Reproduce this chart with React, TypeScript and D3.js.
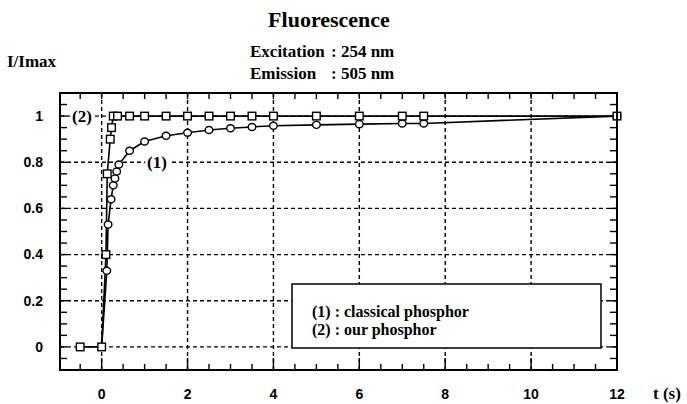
import React from "react";
import * as d3 from "d3";

// values
const classicalT = [0, 0.12, 0.15, 0.22, 0.27, 0.31, 0.35, 0.4, 0.65, 1, 1.5, 2, 2.5, 3, 3.5, 4, 5, 6, 7, 7.5, 12];
const classicalI = [0, 0.33, 0.53, 0.64, 0.7, 0.73, 0.76, 0.79, 0.85, 0.89, 0.915, 0.928, 0.94, 0.947, 0.953, 0.958, 0.962, 0.965, 0.968, 0.968, 1.0];
const ourT = [-0.5, 0, 0.1, 0.13, 0.2, 0.23, 0.27, 0.37, 0.65, 1, 1.5, 2, 2.5, 3, 3.5, 4, 5, 6, 7, 7.5, 12];
const ourI = [0, 0, 0.4, 0.75, 0.9, 0.95, 1, 1, 1, 1, 1, 1, 1, 1, 1, 1, 1, 1, 1, 1, 1];

const xTicks = [0, 2, 4, 6, 8, 10, 12];
const yTicks = [0, 0.2, 0.4, 0.6, 0.8, 1];
const yTickLabels = ["0", "0.2", "0.4", "0.6", "0.8", "1"];
const legendItems = ["(1) : classical phosphor", "(2) : our phosphor"];

const W = 687;
const H = 404;
const plot = { left: 60, right: 617, top: 93, bottom: 370 };

export default function App() {
  const x = d3.scaleLinear().domain([-0.97, 12]).range([plot.left, plot.right]);
  const y = d3.scaleLinear().domain([-0.1, 1.1]).range([plot.bottom, plot.top]);

  const s1 = classicalT.map((t, i) => [t, classicalI[i]] as [number, number]);
  const s2 = ourT.map((t, i) => [t, ourI[i]] as [number, number]);
  const line = d3.line<[number, number]>().x(d => x(d[0])).y(d => y(d[1]));

  const xMinor = d3.range(-0.5, 12.01, 0.5);
  const yMinor = d3.range(-0.05, 1.101, 0.05);
  const gridX = [0, 2, 4, 6, 8, 10];
  const gridY = [0, 0.2, 0.4, 0.6, 0.8, 1];

  const serif = "'Liberation Serif', 'Times New Roman', serif";
  const sans = "'Liberation Sans', Arial, sans-serif";

  return (
    <svg width={W} height={H} style={{ position: "absolute", left: 0, top: 0, background: "#fff" }}>
      {/* titles */}
      <text x={329} y={27} textAnchor="middle" fontFamily={serif} fontWeight="bold" fontSize={22}>Fluorescence</text>
      <text x={250} y={57} fontFamily={serif} fontWeight="bold" fontSize={17}>Excitation</text>
      <text x={331} y={57} fontFamily={serif} fontWeight="bold" fontSize={17}>: 254 nm</text>
      <text x={250} y={79} fontFamily={serif} fontWeight="bold" fontSize={17}>Emission</text>
      <text x={331} y={79} fontFamily={serif} fontWeight="bold" fontSize={17}>: 505 nm</text>
      <text x={7} y={67} fontFamily={serif} fontWeight="bold" fontSize={17}>I/Imax</text>

      {/* grid */}
      <g stroke="#000" strokeWidth={1.4} strokeDasharray="4,3">
        {gridX.map(v => (
          <line key={"gx" + v} x1={x(v)} x2={x(v)} y1={plot.top} y2={plot.bottom} />
        ))}
        {gridY.map(v => (
          <line key={"gy" + v} x1={plot.left} x2={plot.right} y1={y(v)} y2={y(v)} />
        ))}
      </g>

      {/* ticks */}
      <g stroke="#000" strokeWidth={1.4}>
        {xMinor.map(v => (
          <g key={"xm" + v}>
            <line x1={x(v)} x2={x(v)} y1={plot.bottom} y2={plot.bottom - (v % 2 === 0 ? 12 : 6)} />
            <line x1={x(v)} x2={x(v)} y1={plot.top} y2={plot.top + 6} />
          </g>
        ))}
        {yMinor.map(v => (
          <g key={"ym" + v}>
            <line x1={plot.left} x2={plot.left + 7} y1={y(v)} y2={y(v)} />
            <line x1={plot.right} x2={plot.right - 7} y1={y(v)} y2={y(v)} />
          </g>
        ))}
      </g>

      {/* tick labels */}
      {xTicks.map(v => (
        <text key={"xl" + v} x={x(v)} y={399} textAnchor="middle" fontFamily={sans} fontWeight="bold" fontSize={14}>{v}</text>
      ))}
      {yTicks.map((v, i) => (
        <text key={"yl" + v} x={43} y={y(v)} dy="0.35em" textAnchor="end" fontFamily={sans} fontWeight="bold" fontSize={14}>{yTickLabels[i]}</text>
      ))}
      <text x={653} y={399} fontFamily={serif} fontWeight="bold" fontSize={17}>t (s)</text>

      {/* curves */}
      <path d={line(s1) || ""} fill="none" stroke="#000" strokeWidth={1.6} />
      <path d={line(s2) || ""} fill="none" stroke="#000" strokeWidth={1.6} />
      {s1.slice(1).map((d, i) => (
        <ellipse key={"c" + i} cx={x(d[0])} cy={y(d[1])} rx={3.8} ry={3.5} fill="#fff" stroke="#000" strokeWidth={1.4} />
      ))}
      {s2.map((d, i) => (
        <rect key={"s" + i} x={x(d[0]) - 3.8} y={y(d[1]) - 3.8} width={7.6} height={7.6} fill="#fff" stroke="#000" strokeWidth={1.4} />
      ))}

      {/* curve labels */}
      <rect x={70} y={y(1) - 9} width={24} height={18} fill="#fff" />
      <text x={82} y={y(1)} dy="0.35em" textAnchor="middle" fontFamily={serif} fontWeight="bold" fontSize={17}>(2)</text>
      <rect x={145} y={y(0.8) - 9} width={24} height={18} fill="#fff" />
      <text x={157} y={y(0.8)} dy="0.35em" textAnchor="middle" fontFamily={serif} fontWeight="bold" fontSize={17}>(1)</text>

      {/* legend */}
      <rect x={292} y={284} width={309} height={64} fill="#fff" stroke="#000" strokeWidth={1.5} />
      {legendItems.map((t, i) => (
        <text key={t} x={312} y={317 + i * 18} fontFamily={serif} fontWeight="bold" fontSize={16}>{t}</text>
      ))}

      {/* frame */}
      <rect x={plot.left} y={plot.top} width={plot.right - plot.left} height={plot.bottom - plot.top} fill="none" stroke="#000" strokeWidth={2} />
    </svg>
  );
}
